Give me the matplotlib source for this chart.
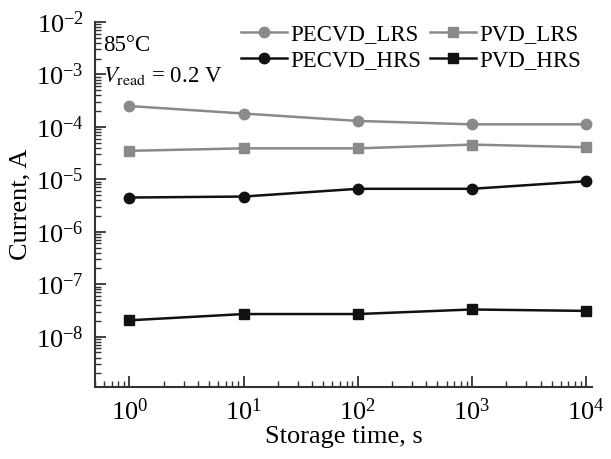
import matplotlib
matplotlib.use('Agg')
import matplotlib.pyplot as plt
from matplotlib.ticker import LogLocator, NullFormatter
import numpy as np

plt.rcParams.update({'font.family': 'Liberation Serif', 'mathtext.fontset': 'stix',
                     'font.size': 15})

# storage times and read currents
time_s = [1, 10, 100, 1000, 10000]
pecvd_lrs = [2.5e-4, 1.8e-4, 1.3e-4, 1.12e-4, 1.12e-4]
pvd_lrs = [3.5e-5, 3.9e-5, 3.9e-5, 4.6e-5, 4.1e-5]
pecvd_hrs = [4.5e-6, 4.7e-6, 6.6e-6, 6.6e-6, 9.2e-6]
pvd_hrs = [2.05e-8, 2.7e-8, 2.7e-8, 3.3e-8, 3.1e-8]

gray = '#8a8a8a'
black = '#111111'

fig = plt.figure(figsize=(6.11, 4.59), dpi=100)
ax = fig.add_axes([0.1555, 0.157, 0.8135, 0.795])

ax.plot(time_s, pecvd_lrs, '-o', color=gray, ms=7.5, lw=1.8, label='PECVD_LRS')
ax.plot(time_s, pecvd_hrs, '-o', color=black, ms=7.5, lw=1.8, label='PECVD_HRS')
ax.plot(time_s, pvd_lrs, '-s', color=gray, ms=7, lw=1.8, label='PVD_LRS')
ax.plot(time_s, pvd_hrs, '-s', color=black, ms=7, lw=1.8, label='PVD_HRS')

ax.set_xscale('log')
ax.set_yscale('log')
ax.set_xlim(0.5, 1.13e4)
ax.set_ylim(1.1e-9, 1e-2)

ax.xaxis.set_major_locator(LogLocator(base=10, numticks=10))
ax.xaxis.set_minor_locator(LogLocator(base=10, subs=np.arange(2, 10), numticks=20))
ax.xaxis.set_minor_formatter(NullFormatter())
ax.set_yticks([1e-8, 1e-7, 1e-6, 1e-5, 1e-4, 1e-3, 1e-2])
ax.yaxis.set_minor_locator(LogLocator(base=10, subs=np.arange(2, 10), numticks=20))
ax.yaxis.set_minor_formatter(NullFormatter())

for side in ['top', 'right']:
    ax.spines[side].set_visible(False)
for side in ['left', 'bottom']:
    ax.spines[side].set_linewidth(1.5)
    ax.spines[side].set_color('#333333')
ax.tick_params(which='major', direction='in', length=8, width=1.3, labelsize=19, pad=8,
               color='#333333')
ax.tick_params(which='minor', direction='in', length=4, width=1.0, color='#333333')

ax.set_xlabel('Storage time, s', fontsize=19, labelpad=1)
ax.set_ylabel('Current, A', fontsize=19, labelpad=3)

ax.text(0.016, 0.935, '85°C', transform=ax.transAxes, fontsize=16.5, va='center', ha='left')
ax.text(0.016, 0.852, r'$V_{\mathrm{read}}$ = 0.2 V', transform=ax.transAxes, fontsize=16.5,
        va='center', ha='left')

ax.legend(loc='upper left', bbox_to_anchor=(0.275, 1.02), ncol=2, frameon=False,
          fontsize=16.5, handlelength=2.0, handletextpad=0.15, columnspacing=0.4,
          labelspacing=0.2, borderaxespad=0)

fig.savefig('out.png', dpi=100)
